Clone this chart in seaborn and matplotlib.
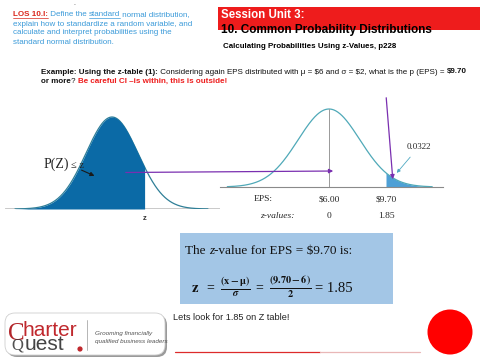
import numpy as np
import pandas as pd
import seaborn as sns
import matplotlib
matplotlib.use("Agg")
import matplotlib.pyplot as plt
from matplotlib.patches import Rectangle, Circle, FancyBboxPatch

# ---------------- data ----------------
mu = 6.0
sigma = 2.0
eps_value = 9.70
z_value = 1.85
tail_prob = 0.0322
eps_tick_values = [6.00, 9.70]
eps_tick_labels = ["$6.00", "$9.70"]
z_tick_labels = ["0", "1.85"]
left_z_span = [-3.73, 3.69]     # extent of the generic curve (z units)
left_cutoff = 1.27              # z marker on generic curve
right_sigma_span = [-3.3, 3.35]  # extent of EPS curve (in sigmas)

sns.set_style("white")
SANS = "Liberation Sans"
SERIF = "Liberation Serif"
plt.rcParams["font.family"] = [SANS, "DejaVu Sans"]
plt.rcParams["mathtext.fontset"] = "stix"

W, H = 480, 360
fig = plt.figure(figsize=(W / 100, H / 100), dpi=100)
bg = fig.add_axes([0, 0, 1, 1])
bg.set_xlim(0, W)
bg.set_ylim(H, 0)
bg.axis("off")
R = fig.canvas.get_renderer()


def tw(s, **kw):
    a = bg.text(0, 0, "|" + s + "|", parse_math=False, **kw)
    b = bg.text(0, 0, "||", parse_math=False, **kw)
    w = a.get_window_extent(R).width - b.get_window_extent(R).width
    a.remove(); b.remove()
    return w


def rich(x, y, pieces, **common):
    for s, kw in pieces:
        props = {**common, **kw}
        ul = props.pop("underline", False)
        bg.text(x, y, s, va="center", ha="left", parse_math=False, **props)
        w = tw(s, **{k: v for k, v in props.items() if k not in ("color",)})
        if ul:
            bg.plot([x, x + w], [y + 3.4, y + 3.4], color=props.get("color", "k"), lw=0.5)
        x += w
    return x


# ---------------- header ----------------
blue_txt = "#3a9ad9"
fs_los = 5.75
rich(13, 15, [("LOS 10.I:", dict(color="#d9261c", fontweight="bold", underline=True)),
              (" Define the ", dict(color=blue_txt)),
              ("standard", dict(color=blue_txt, underline=True)),
              (" normal distribution,", dict(color=blue_txt))], fontsize=fs_los)
for i, line in enumerate(["explain how to standardize a random variable, and",
                          "calculate and interpret probabilities using the",
                          "standard normal distribution."]):
    bg.text(13, 24 + 9 * i, line, color=blue_txt, fontsize=fs_los, va="center")
bg.text(74, 5, "-", fontsize=4, color="#555", va="center")

bg.add_patch(Rectangle((218, 7), 262, 23, color="#ee1c1c", lw=0, zorder=1))
bg.text(221, 15.5, "Session Unit 3:", color="white", fontweight="bold", fontsize=8.3, va="center", zorder=3)
bg.text(221, 30, "10. Common Probability Distributions", color="black", fontweight="bold",
        fontsize=8.5, va="center", zorder=3)
bg.text(223, 47, "Calculating Probabilities Using z-Values, p228", color="black",
        fontweight="bold", fontsize=5.7, va="center")

fs_ex = 5.75
rich(41, 72, [("Example: Using the z-table (1):", dict(fontweight="bold")),
              (" Considering again EPS distributed with \u03bc = $6 and \u03c3 = $2, what is the p (EPS) = ", {}),
              ("$9.70", dict(fontweight="bold"))], fontsize=fs_ex, color="#111")
rich(41, 81.5, [("or more", dict(fontweight="bold")), ("? ", {}),
                ("Be careful CI \u2013is within, this is outside!", dict(fontweight="bold", color="#ee1c1c"))],
     fontsize=fs_ex, color="#111")

# ---------------- left generic curve ----------------
pdfmax = 1 / np.sqrt(2 * np.pi)
axL = fig.add_axes([5 / W, 1 - 209 / H, 215 / W, 99 / H])
axL.patch.set_alpha(0)
zl = np.linspace(left_z_span[0], left_z_span[1], 400)
dfL = pd.DataFrame({"z": zl, "pdf": np.exp(-zl ** 2 / 2) / np.sqrt(2 * np.pi)})
axL.axhline(0, color="#c4c4c4", lw=2, zorder=1)
sns.lineplot(data=dfL, x="z", y="pdf", ax=axL, color="#2f7f97", lw=0.9, zorder=2)
m = dfL["z"] <= left_cutoff
axL.fill_between(dfL["z"][m], 0, dfL["pdf"][m], color="#0b6aa6", lw=0, zorder=3)
axL.set_xlim((5 - 112) / 26, (220 - 112) / 26)
axL.set_ylim(0, pdfmax * 99 / 92)
axL.axis("off")

# ---------------- right EPS curve ----------------
px_per = (386 - 329) / (eps_value - mu)
axR = fig.add_axes([220 / W, 1 - 187 / H, 223 / W, 87 / H])
axR.patch.set_alpha(0)
xr = np.linspace(mu + right_sigma_span[0] * sigma, mu + right_sigma_span[1] * sigma, 400)
dfR = pd.DataFrame({"eps": xr, "pdf": np.exp(-((xr - mu) / sigma) ** 2 / 2) / (sigma * np.sqrt(2 * np.pi))})
sns.lineplot(data=dfR, x="eps", y="pdf", ax=axR, color="#4fa9b8", lw=0.9)
mt = dfR["eps"] >= eps_value
axR.fill_between(dfR["eps"][mt], 0, dfR["pdf"][mt], color="#4ea0d6", lw=0)
pk = 1 / (sigma * np.sqrt(2 * np.pi))
axR.plot([mu, mu], [0, pk], color="#999999", lw=0.7)
axR.set_xlim(mu + (220 - 329) / px_per, mu + (443 - 329) / px_per)
axR.set_ylim(0, pk * 87 / 78)
for s in ["top", "left", "right"]:
    axR.spines[s].set_visible(False)
axR.spines["bottom"].set_color("#8a8a8a")
axR.spines["bottom"].set_linewidth(0.8)
axR.set_xticks([]); axR.set_yticks([])
axR.set_xlabel(""); axR.set_ylabel("")
tr = axR.get_xaxis_transform()
fs_lab = 6.8
axR.text(mu + (263 - 329) / px_per, -0.138, "EPS:", transform=tr, family=SERIF, fontsize=fs_lab,
         ha="center", va="center", clip_on=False)
axR.text(mu + (277 - 329) / px_per, -0.333, "z-values:", transform=tr, family=SERIF, style="italic",
         fontsize=fs_lab, ha="center", va="center", clip_on=False)
for v, a, b in zip(eps_tick_values, eps_tick_labels, z_tick_labels):
    axR.text(v, -0.138, a, transform=tr, family=SERIF, fontsize=fs_lab, ha="center", va="center",
             clip_on=False, parse_math=False)
    axR.text(v, -0.333, b, transform=tr, family=SERIF, fontsize=fs_lab, ha="center", va="center",
             clip_on=False)

# ---------------- overlay for labels / arrows ----------------
ov = fig.add_axes([0, 0, 1, 1])
ov.set_xlim(0, W)
ov.set_ylim(H, 0)
ov.axis("off")
ov.patch.set_alpha(0)

ov.text(145, 219, "z", fontsize=5.5, fontweight="bold", ha="center", va="center", color="#333")
ov.text(44, 164, "P(Z)", family=SERIF, fontsize=10, va="center", ha="left", color="#222")
ov.text(71, 165, "\u2264 z", family=SERIF, fontsize=7.5, va="center", ha="left", color="#222")
ov.annotate("", xy=(97, 177), xytext=(79, 169),
            arrowprops=dict(arrowstyle="-|>", color="#1a1a1a", lw=0.8, mutation_scale=6))
ov.text(419, 147, f"{tail_prob:.4f}", family=SERIF, fontsize=6.5, ha="center", va="center")
ov.annotate("", xy=(395, 175), xytext=(412, 155),
            arrowprops=dict(arrowstyle="-|>", color="#4fa9c2", lw=0.6, mutation_scale=5))

pur = "#7a2fb0"
ov.annotate("", xy=(336, 171), xytext=(123, 172.5),
            arrowprops=dict(arrowstyle="-|>", color=pur, lw=0.9, mutation_scale=6))
ov.annotate("", xy=(393, 182), xytext=(386, 95),
            arrowprops=dict(arrowstyle="-|>", color=pur, lw=0.9, mutation_scale=6))

# ---------------- z-value box ----------------
bg.add_patch(Rectangle((180, 233), 213, 71, color="#a3c6e6", lw=0))
rich(185, 251, [("The ", {}), ("z", dict(style="italic")), ("-value for EPS = $9.70 is:", {})],
     family=SERIF, fontsize=9.5, color="#111")
bg.text(195, 288, r"$\mathbf{z}$", fontsize=10.5, ha="center", va="center", color="#111")
bg.text(210, 288, "=", family=SERIF, fontsize=10, ha="center", va="center", color="#111")
bg.text(235, 287, r"$\frac{\mathbf{(x-\mu)}}{\boldsymbol{\sigma}}$", fontsize=10.5, ha="center",
        va="center", color="#111")
bg.text(259, 288, "=", family=SERIF, fontsize=10, ha="center", va="center", color="#111")
bg.text(290, 287, r"$\frac{\mathbf{(9.70-6)}}{\mathbf{2}}$", fontsize=10.5, ha="center",
        va="center", color="#111")
bg.text(315, 288, f"= {z_value:.2f}", family=SERIF, fontsize=10.5, ha="left", va="center", color="#111")

# ---------------- footer ----------------
bg.text(173, 317, f"Lets look for {z_value:.2f} on Z table!", fontsize=6.6, color="#222", va="center")
bg.plot([175, 320], [352, 352], color="#dd2b2b", lw=0.9)
bg.plot([320, 420], [352, 352], color="#e9b7b7", lw=0.9)
bg.add_patch(Circle((450, 332), 22.5, color="#ff0000", lw=0))

bg.add_patch(FancyBboxPatch((7, 315), 160, 42, boxstyle="round,pad=0,rounding_size=10",
                            fc="#9a9a9a", ec="none", lw=0))
bg.add_patch(FancyBboxPatch((5, 313), 160, 42, boxstyle="round,pad=0,rounding_size=10",
                            fc="white", ec="#cfcfcf", lw=0.6))
bg.text(8, 334, "C", family=SERIF, fontsize=18, color="#b3262b", va="center", ha="left")
bg.text(11, 346, "Q", family=SERIF, fontsize=12, color="#333", va="center", ha="left", alpha=0.85)
bg.text(23, 330, "harter", family=SANS, fontsize=15, color="#c0282d", va="center", ha="left")
bg.text(25, 345, "uest", family=SANS, fontsize=15, color="#444", va="center", ha="left")
bg.add_patch(Circle((80, 349), 2.6, color="#c0282d", lw=0))
bg.plot([87, 87], [320, 350], color="#aaaaaa", lw=0.6)
bg.text(95, 333, "Grooming financially", fontsize=4.6, style="italic", color="#555", va="center")
bg.text(95, 342, "qualified business leaders", fontsize=4.6, style="italic", color="#555", va="center")

fig.savefig("out.png", dpi=100)
